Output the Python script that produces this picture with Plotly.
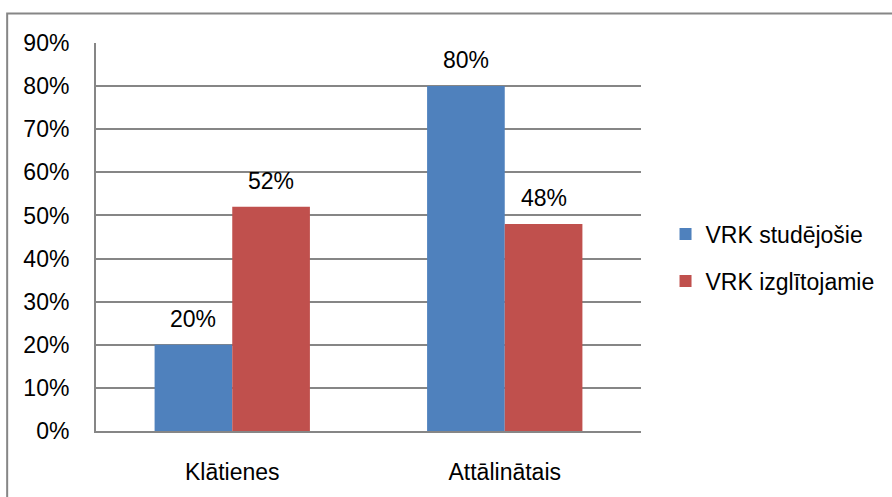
import plotly.graph_objects as go

categories = ["Klātienes", "Attālinātais"]
series_names = ["VRK studējošie", "VRK izglītojamie"]
studejosie = [0.20, 0.80]
izglitojamie = [0.52, 0.48]
y_ticks = [0, 0.1, 0.2, 0.3, 0.4, 0.5, 0.6, 0.7, 0.8, 0.9]
y_tick_labels = ["0%", "10%", "20%", "30%", "40%", "50%", "60%", "70%", "80%", "90%"]

colors = ["#4F81BD", "#C0504D"]
FONT = "Liberation Sans"
BAR_GAP = 0.43

fig = go.Figure()
for name, vals, col in zip(series_names, [studejosie, izglitojamie], colors):
    fig.add_trace(go.Bar(
        x=categories, y=vals, name=name,
        marker=dict(color=col, line=dict(width=0)),
        legendgroup=name,
    ))

# value labels above each bar
half = (1 - BAR_GAP) / 4
for s, vals in enumerate([studejosie, izglitojamie]):
    for i, v in enumerate(vals):
        fig.add_annotation(
            x=i + (-half if s == 0 else half), y=v, xref="x", yref="y",
            text=f"{round(v * 100)}%", showarrow=False,
            yanchor="bottom", yshift=11,
            font=dict(family=FONT, size=23, color="#000000"),
        )

# outer chart frame
fig.add_shape(
    type="rect", xref="paper", yref="paper",
    x0=(7 - 96) / 546, x1=1.5, y0=-0.2, y1=(437 - 13) / 394,
    line=dict(color="#868686", width=2), fillcolor="rgba(0,0,0,0)",
    layer="below",
)

fig.update_layout(
    width=892, height=497,
    margin=dict(l=96, r=250, t=43, b=60),
    paper_bgcolor="white", plot_bgcolor="white",
    barmode="group", bargap=BAR_GAP, bargroupgap=0,
    font=dict(family=FONT, size=23, color="#000000"),
    showlegend=True,
    legend=dict(
        x=1.045, y=0.447, xanchor="left", yanchor="middle",
        font=dict(family=FONT, size=23, color="#000000"),
        tracegroupgap=14, bgcolor="rgba(0,0,0,0)",
    ),
)
fig.update_xaxes(
    showgrid=False, showline=True, linecolor="#868686", linewidth=2,
    ticks="outside", ticklen=19, tickcolor="rgba(0,0,0,0)",
    tickfont=dict(family=FONT, size=23, color="#000000"),
    fixedrange=True,
)
fig.update_yaxes(
    range=[0, 0.9], tickvals=y_ticks, ticktext=y_tick_labels,
    showgrid=True, gridcolor="#868686", gridwidth=2,
    showline=True, linecolor="#868686", linewidth=2,
    zeroline=False,
    ticks="outside", ticklen=20, tickcolor="rgba(0,0,0,0)",
    tickfont=dict(family=FONT, size=23, color="#000000"),
    fixedrange=True,
)

fig.write_html("out.html")
